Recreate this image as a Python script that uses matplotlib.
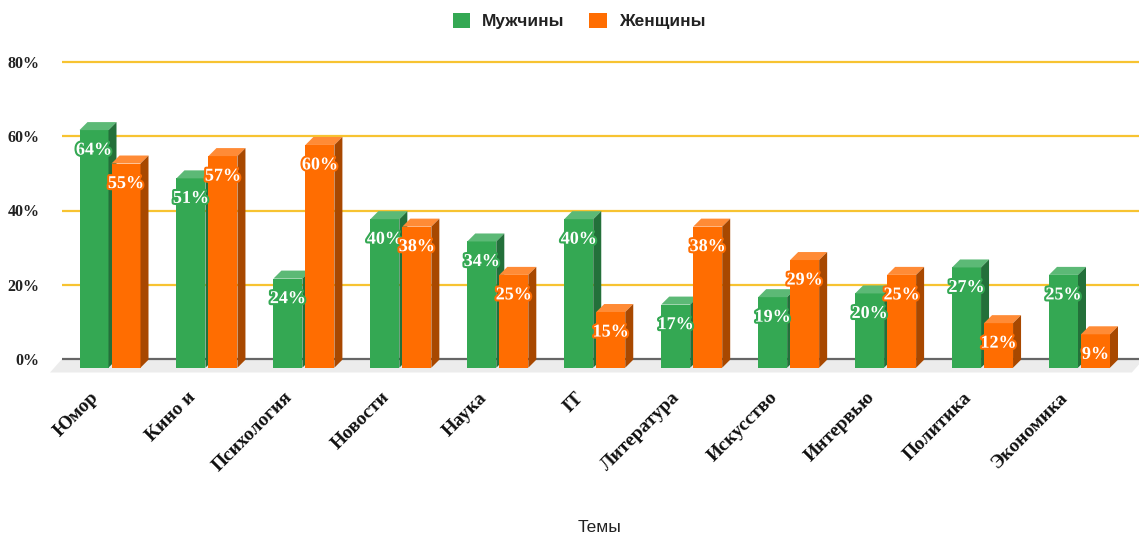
import matplotlib
matplotlib.use("Agg")
import matplotlib.pyplot as plt
from matplotlib.patches import Polygon, Patch
from matplotlib import patheffects as pe

# --- data -----------------------------------------------------------------
categories = ["Юмор", "Кино и", "Психология", "Новости", "Наука", "IT",
              "Литература", "Искусство", "Интервью", "Политика", "Экономика"]
men = [64, 51, 24, 40, 34, 40, 17, 19, 20, 27, 25]
women = [55, 57, 60, 38, 25, 15, 38, 29, 25, 12, 9]
series_names = ["Мужчины", "Женщины"]
y_ticks = [0, 20, 40, 60, 80]
x_title = "Темы"

# --- style ----------------------------------------------------------------
GREEN = {"front": "#34a853", "top": "#5cb976", "side": "#23703a"}
ORANGE = {"front": "#ff6d01", "top": "#ff8b36", "side": "#a84800"}
GRID = "#f7c331"
SERIF = ["Liberation Serif", "DejaVu Serif"]
SANS = ["Liberation Sans", "DejaVu Sans"]

W, H = 1139, 539
fig = plt.figure(figsize=(W / 100, H / 100), dpi=100)

# axes geometry (pixels)
ax_l, ax_r, ax_t, ax_b = 62, 1139, 55, 375
zero_px, px_per_pct = 359, 3.7125
first_px, step_px = 110, 96.95

ax = fig.add_axes([ax_l / W, (H - ax_b) / H, (ax_r - ax_l) / W, (ax_b - ax_t) / H])
ax.set_xlim((ax_l - first_px) / step_px, (ax_r - first_px) / step_px)
ax.set_ylim((zero_px - ax_b) / px_per_pct, (zero_px - ax_t) / px_per_pct)
for s in ax.spines.values():
    s.set_visible(False)

# 3D depth expressed in data units
DX = 8 / step_px
DY = 8 / px_per_pct
FRONT_DROP = 8.7 / px_per_pct
FLOOR_DX = 12 / step_px
FLOOR_DY = 13.5 / px_per_pct

bar_w = 29 / step_px
half_gap = 1.5 / step_px
offsets = [-(bar_w / 2 + half_gap), bar_w / 2 + half_gap]

# floor
x0, x1 = ax.get_xlim()
floor = Polygon([(x0, 0), (x1 + 0.05, 0), (x1 + 0.05 - FLOOR_DX, -FLOOR_DY),
                 (x0 - FLOOR_DX, -FLOOR_DY)], closed=True,
                facecolor="#ececec", edgecolor="none", zorder=0, clip_on=False)
ax.add_patch(floor)

# gridlines
for t in y_ticks[1:]:
    ax.axhline(t, color=GRID, lw=1.6, zorder=1)
ax.axhline(0, color="#666666", lw=1.6, zorder=1)

ax.set_yticks(y_ticks)
ax.set_yticklabels([f"{t}%" for t in y_ticks], fontfamily=SERIF,
                   fontweight="bold", fontsize=11.5, color="#222222")
ax.tick_params(axis="y", length=0, pad=16)


def draw_bar(xc, value, colors, z):
    xl, xr = xc - bar_w / 2, xc + bar_w / 2
    b = -FRONT_DROP
    t = value - FRONT_DROP
    ax.bar(xc, value, width=bar_w, bottom=b, color=colors["front"],
           edgecolor="none", zorder=z)
    ax.add_patch(Polygon([(xl, t), (xr, t), (xr + DX, t + DY), (xl + DX, t + DY)],
                         closed=True, facecolor=colors["top"], edgecolor="none",
                         zorder=z))
    ax.add_patch(Polygon([(xr, b), (xr + DX, b + DY), (xr + DX, t + DY), (xr, t)],
                         closed=True, facecolor=colors["side"], edgecolor="none",
                         zorder=z))
    ax.text(xc, t - 20 / px_per_pct, f"{value}%", ha="center", va="center",
            fontfamily=SERIF, fontweight="bold", fontsize=13, color="white",
            zorder=z + 5,
            path_effects=[pe.withStroke(linewidth=3, foreground=colors["front"])])


for i, (m, w) in enumerate(zip(men, women)):
    draw_bar(i + offsets[0], m, GREEN, 3 + i * 0.01)
    draw_bar(i + offsets[1], w, ORANGE, 3.005 + i * 0.01)

# category labels
ax.set_xticks([i - 8 / step_px for i in range(len(categories))])
ax.set_xticklabels(categories, rotation=45, ha="right", va="top",
                   fontfamily=SERIF, fontweight="bold", fontsize=14,
                   color="#111111")
ax.tick_params(axis="x", length=0, pad=10)

# axis title
fig.text(600 / W, 1 - 527 / H, x_title, ha="center", va="center",
         fontfamily=SANS, fontsize=12.5, color="#222222")

# legend
handles = [Patch(facecolor=GREEN["front"], edgecolor="none", label=series_names[0]),
           Patch(facecolor=ORANGE["front"], edgecolor="none", label=series_names[1])]
leg = fig.legend(handles=handles, loc="center", bbox_to_anchor=(579 / W, 1 - 21 / H),
                 ncol=2, frameon=False, handlelength=1.0, handleheight=1.0,
                 handletextpad=0.7, columnspacing=1.4,
                 prop={"family": SANS, "weight": "bold", "size": 12.5})
for txt in leg.get_texts():
    txt.set_color("#222222")

fig.savefig("out.png", dpi=100, facecolor="white")
